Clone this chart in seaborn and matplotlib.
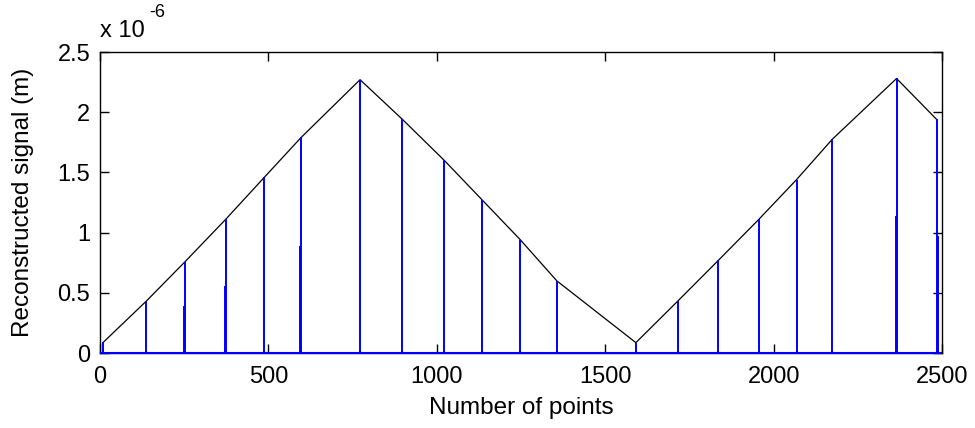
import numpy as np
import pandas as pd
import matplotlib
matplotlib.use("Agg")
import matplotlib.pyplot as plt
import seaborn as sns

# Sample positions (point index) and reconstructed values (units of 1e-6 m)
sample_idx = [10, 137, 253, 373, 488, 597, 772, 898, 1022, 1135, 1248, 1356,
              1591, 1717, 1836, 1956, 2068, 2174, 2365, 2484]
sample_val = [0.09, 0.43, 0.76, 1.11, 1.46, 1.79, 2.27, 1.94, 1.60, 1.27, 0.94, 0.60,
              0.086, 0.436, 0.77, 1.11, 1.44, 1.775, 2.28, 1.94]

# Secondary (partial) stems sitting next to some samples
extra_idx = [250, 370, 594, 2362, 2487]
extra_val = [0.39, 0.555, 0.89, 1.14, 0.97]

x_ticks = [0, 500, 1000, 1500, 2000, 2500]
y_ticks = [0, 0.5, 1, 1.5, 2, 2.5]
y_tick_labels = ["0", "0.5", "1", "1.5", "2", "2.5"]

sns.set_style("white")
plt.rcParams["font.family"] = ["Liberation Sans", "DejaVu Sans"]

fig = plt.figure(figsize=(9.75, 4.28), dpi=100)
ax = fig.add_axes([0.1026, 0.1752, 0.8636, 0.7033])

blue = (0, 0, 1)

df = pd.DataFrame({"idx": sample_idx, "val": sample_val})
sns.lineplot(data=df, x="idx", y="val", color="black", linewidth=0.9,
             estimator=None, sort=False, ax=ax, zorder=2)

# stems
ax.vlines(sample_idx, 0, sample_val, color=blue, linewidth=1.4, zorder=3)
ax.vlines(extra_idx, 0, extra_val, color=blue, linewidth=1.4, zorder=3)
# stem baseline
ax.hlines(0, 0, 2500, color=blue, linewidth=1.5, zorder=4, clip_on=False)

ax.set_xlim(0, 2500)
ax.set_ylim(0, 2.5)
ax.set_xticks(x_ticks)
ax.set_xticklabels([str(t) for t in x_ticks])
ax.set_yticks(y_ticks)
ax.set_yticklabels(y_tick_labels)

for s in ax.spines.values():
    s.set_visible(True)
    s.set_color("black")
    s.set_linewidth(1.0)

ax.tick_params(axis="both", which="both", direction="in", length=6.5, width=1.0,
               color="black", labelsize=17, labelcolor="black",
               top=True, right=True, bottom=True, left=True)
ax.tick_params(axis="x", pad=9)
ax.tick_params(axis="y", pad=7)

ax.set_xlabel("Number of points", fontsize=17.5, color="black")
ax.set_ylabel("Reconstructed signal (m)", fontsize=17.5, color="black")
ax.xaxis.set_label_coords(0.5, -0.146)
ax.xaxis.label.set_va("top")
ax.yaxis.set_label_coords(-0.079, 0.5)

# exponent marker for the y axis
ax.text(0.0, 1.05, "x 10", transform=ax.transAxes, ha="left", va="baseline",
        fontsize=17, color="black")
ax.text(0.059, 1.115, "-6", transform=ax.transAxes, ha="left", va="baseline",
        fontsize=13, color="black")

fig.savefig("out.png", dpi=100, facecolor="white")
